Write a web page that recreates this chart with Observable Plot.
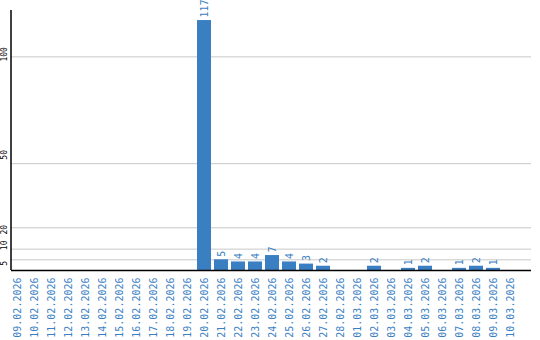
<!DOCTYPE html>
<html><head><meta charset="utf-8">
<script src="https://cdn.jsdelivr.net/npm/d3@7"></script>
<script src="https://cdn.jsdelivr.net/npm/@observablehq/plot@0.6"></script>
<style>body{margin:0;background:#fff;overflow:hidden}</style>
</head><body><div id="chart"></div>
<script>
const dates = ["09.02.2026","10.02.2026","11.02.2026","12.02.2026","13.02.2026","14.02.2026","15.02.2026","16.02.2026","17.02.2026","18.02.2026","19.02.2026","20.02.2026","21.02.2026","22.02.2026","23.02.2026","24.02.2026","25.02.2026","26.02.2026","27.02.2026","28.02.2026","01.03.2026","02.03.2026","03.03.2026","04.03.2026","05.03.2026","06.03.2026","07.03.2026","08.03.2026","09.03.2026","10.03.2026"];
const counts = [0,0,0,0,0,0,0,0,0,0,0,117,5,4,4,7,4,3,2,0,0,2,0,1,2,0,1,2,1,0];
const yTicks = [5,10,20,50,100];

const data = dates.map((d, i) => ({date: d, count: counts[i]}));
const BLUE = "#3b7fc3";
const FONT = "DejaVu Sans Mono";

function leftAxisLine(index, scales, values, dims) {
  const l = document.createElementNS("http://www.w3.org/2000/svg", "line");
  l.setAttribute("x1", dims.marginLeft);
  l.setAttribute("x2", dims.marginLeft);
  l.setAttribute("y1", dims.marginTop);
  l.setAttribute("y2", dims.height - dims.marginBottom);
  l.setAttribute("stroke", "#000");
  l.setAttribute("stroke-width", 1.5);
  return l;
}

const yLabelOpts = {y: d => d, text: d => String(d), frameAnchor: "left", dx: -7, rotate: -90, lineAnchor: "middle", fill: "#000", fontSize: 8, fontFamily: FONT};
const pick = v => yTicks.filter(t => t === v);

const chart = Plot.plot({
  width: 540,
  height: 340,
  marginLeft: 11,
  marginRight: 9,
  marginTop: 10,
  marginBottom: 70,
  style: {background: "#fff", fontFamily: FONT},
  x: {type: "band", domain: dates, range: [8.5, 518.5], paddingInner: 0.1765, paddingOuter: 0.0882, axis: null, label: null},
  y: {domain: [0, 121.7], axis: null},
  marks: [
    Plot.ruleY(yTicks, {stroke: "#c8c8c8", strokeWidth: 1}),
    Plot.barY(data.filter(d => d.count > 0), {x: "date", y: "count", fill: BLUE}),
    Plot.text(data.filter(d => d.count > 0), {x: "date", y: "count", text: d => String(d.count), rotate: -90, textAnchor: "start", lineAnchor: "middle", dy: -3, fill: BLUE, fontSize: 10, fontFamily: FONT}),
    Plot.axisX({tickRotate: -90, tickSize: 0, tickPadding: 7, fill: BLUE, fontSize: 10, fontFamily: FONT, label: null}),
    Plot.text(pick(5), {...yLabelOpts, textAnchor: "end", dy: 1}),
    Plot.text(pick(10), {...yLabelOpts, textAnchor: "start", dy: 1}),
    Plot.text(pick(20), {...yLabelOpts, textAnchor: "middle", dy: 2}),
    Plot.text(pick(50), {...yLabelOpts, textAnchor: "start", dy: -4}),
    Plot.text(pick(100), {...yLabelOpts, textAnchor: "middle", dy: -2.5}),
    Plot.ruleY([0], {stroke: "#000", strokeWidth: 1.5}),
    leftAxisLine
  ]
});
document.getElementById("chart").appendChild(chart);
</script>
</body></html>
